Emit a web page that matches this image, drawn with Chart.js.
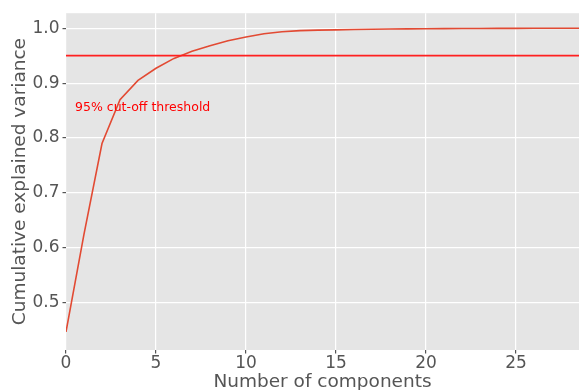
<!DOCTYPE html>
<html>
<head>
<meta charset="utf-8">
<script src="https://cdn.jsdelivr.net/npm/chart.js@4.4.0/dist/chart.umd.min.js"></script>
<style>
  html, body { margin: 0; padding: 0; background: #ffffff; }
  #wrap { width: 579px; height: 390px; }
</style>
</head>
<body>
<div id="wrap"><canvas id="chart" width="579" height="390"></canvas></div>
<script>
// data
const components = [0, 1, 2, 3, 4, 5, 6, 7, 8, 9, 10, 11, 12, 13, 14,
  15, 16, 17, 18, 19, 20, 21, 22, 23, 24, 25, 26, 27, 28, 29];
const cumulativeVariance = [0.447, 0.625, 0.790, 0.870, 0.905, 0.927, 0.945, 0.958, 0.968, 0.977,
  0.984, 0.990, 0.9935, 0.9955, 0.9965, 0.997, 0.9975, 0.998, 0.9984, 0.9988,
  0.999, 0.9992, 0.9994, 0.9995, 0.9996, 0.9997, 0.9998, 0.9999, 0.99995, 1.0];
const threshold = 0.95;
const thresholdText = "95% cut-off threshold";
const thresholdTextPos = [0.5, 0.85];
const xTicks = [0, 5, 10, 15, 20, 25];
const yTicks = [0.5, 0.6, 0.7, 0.8, 0.9, 1.0];
const xLimits = [0, 28.5];
const yLimits = [0.414, 1.0273];

const FONT = '"DejaVu Sans", sans-serif';
const GREY = "#555555";

// grey panel behind the plot, ggplot style
const panelBg = {
  id: "panelBg",
  beforeDraw(chart) {
    const { ctx, chartArea: a } = chart;
    ctx.save();
    ctx.fillStyle = "#e5e5e5";
    ctx.fillRect(a.left, a.top, a.right - a.left, a.bottom - a.top);
    ctx.restore();
  }
};

// the red note under the threshold line
const thresholdNote = {
  id: "thresholdNote",
  afterDatasetsDraw(chart) {
    const { ctx, scales } = chart;
    ctx.save();
    ctx.font = "12.5px " + FONT;
    ctx.fillStyle = "#ff0000";
    ctx.textBaseline = "alphabetic";
    ctx.textAlign = "left";
    ctx.fillText(thresholdText,
      scales.x.getPixelForValue(thresholdTextPos[0]),
      scales.y.getPixelForValue(thresholdTextPos[1]));
    ctx.restore();
  }
};

const ctx = document.getElementById("chart").getContext("2d");

new Chart(ctx, {
  type: "line",
  data: {
    datasets: [
      {
        label: "threshold",
        data: xLimits.map(x => ({ x: x, y: threshold })),
        borderColor: "#ff2020",
        borderWidth: 1.6,
        pointRadius: 0
      },
      {
        label: "cumulative",
        data: components.map((c, i) => ({ x: c, y: cumulativeVariance[i] })),
        borderColor: "#E24A33",
        borderWidth: 1.6,
        pointRadius: 0,
        tension: 0
      }
    ]
  },
  options: {
    responsive: false,
    animation: false,
    layout: { padding: { top: 12, right: 0, left: 0, bottom: 0 } },
    plugins: {
      legend: { display: false },
      tooltip: { enabled: false }
    },
    scales: {
      x: {
        type: "linear",
        min: xLimits[0],
        max: xLimits[1],
        afterBuildTicks: (s) => { s.ticks = xTicks.map(v => ({ value: v })); },
        afterFit: (s) => { s.height = 40; },
        grid: { color: "#ffffff", lineWidth: 1.2, tickColor: GREY, tickLength: 3.5 },
        border: { display: false },
        ticks: { color: GREY, font: { family: FONT, size: 17 }, padding: 0, maxRotation: 0 },
        title: {
          display: true,
          text: "Number of components",
          color: GREY,
          font: { family: FONT, size: 18.5 },
          padding: { top: 0, bottom: -3 }
        }
      },
      y: {
        min: yLimits[0],
        max: yLimits[1],
        afterBuildTicks: (s) => { s.ticks = yTicks.map(v => ({ value: v })); },
        afterFit: (s) => { s.width = 66; },
        grid: { color: "#ffffff", lineWidth: 1.2, tickColor: GREY, tickLength: 3.5 },
        border: { display: false },
        ticks: {
          color: GREY,
          font: { family: FONT, size: 17 },
          padding: 3,
          callback: (v) => v.toFixed(1)
        },
        title: {
          display: true,
          text: "Cumulative explained variance",
          color: GREY,
          font: { family: FONT, size: 18.5 },
          padding: { top: 9, bottom: 0 }
        }
      }
    }
  },
  plugins: [panelBg, thresholdNote]
});
</script>
</body>
</html>
